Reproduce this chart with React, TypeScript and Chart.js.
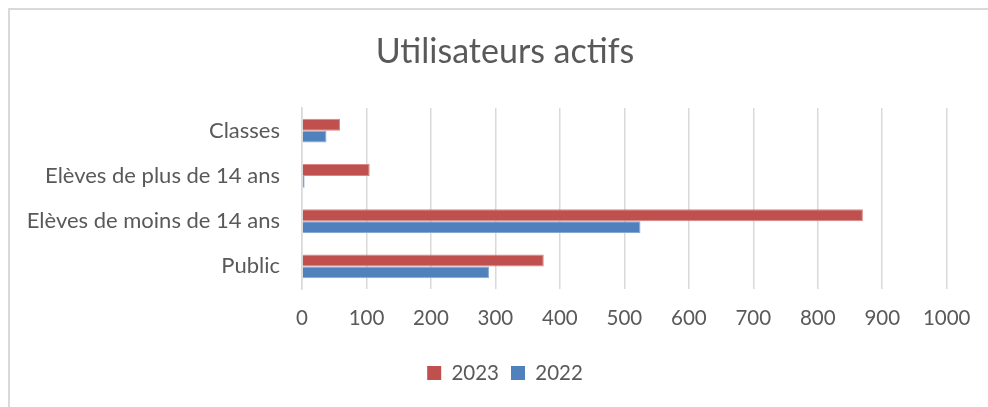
import React, { useEffect, useRef } from "react";
import { Chart, registerables } from "chart.js";

Chart.register(...registerables);

const titleText = "Utilisateurs actifs";
const categories = [
  "Classes",
  "Elèves de plus de 14 ans",
  "Elèves de moins de 14 ans",
  "Public",
];
const seriesNames = ["2023", "2022"];
const values2023 = [59, 105, 870, 375];
const values2022 = [38, 4, 525, 290];
const xMin = 0;
const xMax = 1000;
const xStep = 100;

const RED = "#C0504D";
const BLUE = "#4F81BD";
const RED_EDGE = "#D58886";
const BLUE_EDGE = "#86A7D4";
const TEXT = "#595959";
const GRID = "#D9D9D9";
const FONT = "Lato, 'Open Sans', sans-serif";

const CW = 990;
const CH = 410;

export default function App() {
  const ref = useRef<HTMLCanvasElement | null>(null);

  useEffect(() => {
    document.documentElement.style.overflow = "hidden";
    if (!ref.current) return;
    const chart = new Chart(ref.current, {
      type: "bar",
      data: {
        labels: categories,
        datasets: [
          {
            label: seriesNames[0],
            data: values2023,
            backgroundColor: RED,
            borderColor: RED_EDGE,
            borderWidth: 1,
            categoryPercentage: 0.53,
            barPercentage: 1.0,
          },
          {
            label: seriesNames[1],
            data: values2022,
            backgroundColor: BLUE,
            borderColor: BLUE_EDGE,
            borderWidth: 1,
            categoryPercentage: 0.53,
            barPercentage: 1.0,
          },
        ],
      },
      options: {
        indexAxis: "y",
        responsive: false,
        animation: false,
        layout: { padding: { top: 0, right: 0, bottom: 26.75, left: 0 } },
        plugins: {
          title: {
            display: true,
            text: titleText,
            color: TEXT,
            font: { family: FONT, size: 34, weight: "normal" },
            padding: { top: 22, bottom: 35.2 },
          },
          legend: {
            display: true,
            position: "bottom",
            labels: {
              color: TEXT,
              font: { family: FONT, size: 20.5 },
              boxWidth: 14,
              boxHeight: 14,
              padding: 12,
              generateLabels: (c: any) =>
                Chart.defaults.plugins.legend.labels.generateLabels(c).map((l: any) => ({
                  ...l,
                  lineWidth: 0,
                })),
            },
          },
          tooltip: { enabled: false },
        },
        scales: {
          x: {
            min: xMin,
            max: xMax,
            ticks: {
              stepSize: xStep,
              color: TEXT,
              font: { family: FONT, size: 20.5 },
              padding: 17.5,
              callback: (v: any) => String(v),
            },
            grid: { color: GRID, lineWidth: 1.5, drawTicks: false },
            border: { display: false },
            afterFit: (scale: any) => {
              scale.height = 61.75;
            },
          },
          y: {
            ticks: {
              color: TEXT,
              font: { family: FONT, size: 22 },
              padding: 22,
            },
            grid: { display: false, drawTicks: false },
            border: { display: true, color: GRID, width: 1.5 },
            afterFit: (scale: any) => {
              scale.width = 292;
            },
          },
          spacer: {
            type: "linear",
            position: "right",
            display: true,
            ticks: { display: false },
            grid: { display: false, drawTicks: false },
            border: { display: false },
            afterFit: (scale: any) => {
              scale.width = 53.3;
            },
          },
        },
      },
    });
    return () => chart.destroy();
  }, []);

  return (
    <div
      style={{
        position: "fixed",
        left: 8,
        top: 8,
        width: CW + 4,
        height: CH + 4,
        boxSizing: "border-box",
        border: `2px solid ${GRID}`,
        background: "#fff",
      }}
    >
      <canvas ref={ref} width={CW} height={CH} style={{ display: "block", width: CW, height: CH }} />
    </div>
  );
}
